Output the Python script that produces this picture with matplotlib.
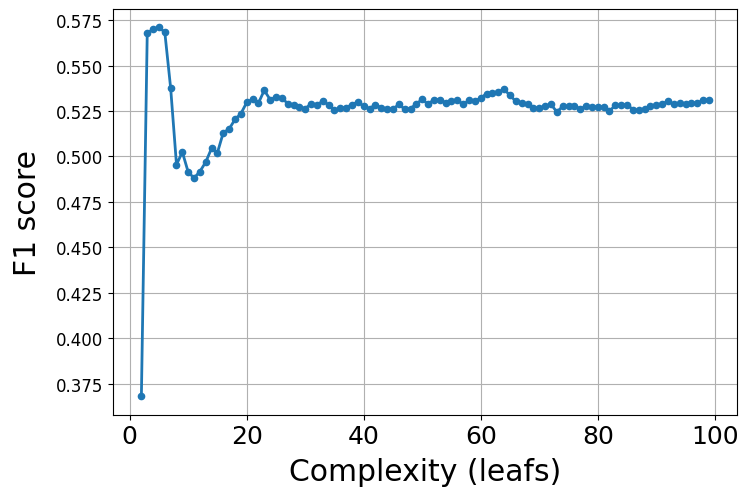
import numpy as np
from matplotlib import pyplot as plt

leafs = list(range(2, 100))
f1 = [
    0.368, 0.5677, 0.5701, 0.5710, 0.5684, 0.5377, 0.4955, 0.5024, 0.4914, 0.4881,  # 2-11
    0.4917, 0.4969, 0.5045, 0.5021, 0.5131, 0.5151, 0.5204, 0.5235, 0.5297, 0.5314,  # 12-21
    0.5293, 0.5364, 0.5313, 0.5327, 0.5324, 0.5290, 0.5281, 0.5272, 0.5263, 0.5290,  # 22-31
    0.5285, 0.5303, 0.5285, 0.5254, 0.5267, 0.5269, 0.5285, 0.5300, 0.5276, 0.5263,  # 32-41
    0.5285, 0.5267, 0.5263, 0.5260, 0.5287, 0.5260, 0.5263, 0.5290, 0.5314, 0.5287,  # 42-51
    0.5313, 0.5313, 0.5296, 0.5303, 0.5309, 0.5287, 0.5309, 0.5305, 0.5321, 0.5346,  # 52-61
    0.5349, 0.5354, 0.5369, 0.5336, 0.5303, 0.5296, 0.5290, 0.5267, 0.5267, 0.5275,  # 62-71
    0.5287, 0.5245, 0.5275, 0.5275, 0.5275, 0.5263, 0.5275, 0.5272, 0.5272, 0.5272,  # 72-81
    0.5250, 0.5281, 0.5281, 0.5285, 0.5258, 0.5254, 0.5263, 0.5276, 0.5281, 0.5290,  # 82-91
    0.5303, 0.5287, 0.5294, 0.5287, 0.5294, 0.5294, 0.5309, 0.5313,  # 92-99
]


def main():
    fig, ax = plt.subplots(figsize=(7.42, 4.89), dpi=100)
    fig.subplots_adjust(left=0.1523, right=0.9937, bottom=0.1499, top=0.9796)

    ax.plot(leafs, f1, "o-", color="#1f77b4", markersize=4.5, linewidth=2)
    ax.grid(True)
    ax.set_xlabel("Complexity (leafs)", fontsize=21.5, labelpad=6)
    ax.set_ylabel("F1 score", fontsize=21.5, labelpad=10)
    ax.tick_params(axis="x", labelsize=18)
    ax.tick_params(axis="y", labelsize=12)

    fig.savefig("out.png", dpi=100)


if __name__ == '__main__':
    main()
